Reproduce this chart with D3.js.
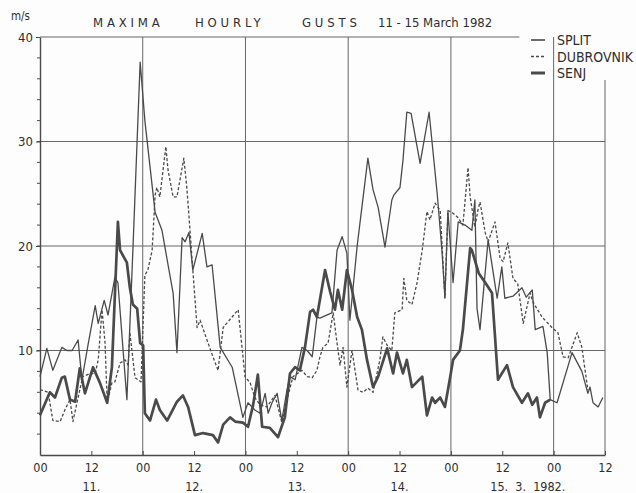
<!DOCTYPE html>
<html>
<head>
<meta charset="utf-8">
<script src="https://cdn.jsdelivr.net/npm/d3@7"></script>
<style>
  body { margin: 0; background: #fdfdfd; }
  svg { display: block; }
  text { font-family: "DejaVu Sans Condensed", "Liberation Sans Narrow", sans-serif; fill: #2e2e2e; }
</style>
</head>
<body>
<svg width="636" height="493"></svg>
<script>
// [hour since 11.3. 00h, gust m/s]
const split = [[0,7.5],[1.6,10.2],[3,8.1],[5.1,10.3],[6.3,10],[7.5,10],[8.9,11],[9.8,7.2],[11.2,10.5],
  [12.9,14.3],[13.6,12.6],[15,14.8],[15.9,13.4],[17.5,17],[18.2,16.5],[20.3,5.3],[21.7,19.6],[23.4,37.6],
  [24.5,32],[25.7,27.6],[26.9,23.2],[28.5,21.5],[29.7,18.7],[31.1,15.5],[32,9.8],[33.2,20.8],[33.9,20.4],
  [34.8,21.3],[35.7,17.7],[37.9,21.2],[39,18],[40.2,18.2],[42.1,10.3],[44.9,8.4],[47.4,3.6],[48.6,5],
  [50.2,4.3],[51.4,4],[52.6,5.9],[53.3,4],[54.2,5],[55.4,5.9],[56.5,3.3],[57.7,6.2],[58.4,7.5],[59.6,7.2],
  [61.2,10.3],[62.4,10],[63.6,9.4],[64.7,13.2],[65.4,13.1],[67.1,13.4],[68.2,13.6],[69.4,19.6],[70.6,20.9],
  [71.7,19.3],[72.4,12.9],[74.1,20],[75.2,23.7],[76.6,28.4],[77.8,25.4],[79,23.7],[80.6,19.9],[82.2,24.4],
  [82.7,24.9],[84.1,25.6],[84.8,28.2],[85.7,32.8],[86.7,32.7],[88.8,27.9],[90.9,32.8],[92.8,25],[93.9,19.6],
  [94.6,15.1],[95.3,23.3],[96.5,16.5],[97.7,22.3],[99.3,22],[100.9,21.5],[101.6,24.4],[102.1,14],[102.8,12],
  [104.7,20.6],[106.8,15],[107.9,18],[108.6,15],[110.5,15.2],[112.6,16],[113.6,15.1],[115,15.8],[115.7,12],
  [117.5,12.3],[118.5,9.8],[119.2,5.3],[120.8,5],[124.3,9.8],[126.6,8],[128,5.9],[128.5,6.5],[129.2,5],
  [130.4,4.6],[131.5,5.5]];

const dubrovnik = [[0,6.2],[0.5,6.2],[1.9,6],[3,3.3],[4.7,3.2],[5.8,4.3],[7,5.3],[7.7,3.2],[8.9,5.5],[10,7.5],
  [11.7,7.8],[12.9,7.8],[13.6,9.1],[14.5,13.9],[15.2,10.7],[15.7,5],[16.8,6.9],[17.5,7],[18.7,8.8],[19.9,9.1],
  [20.6,8.6],[21,11.7],[22.2,7.4],[23.6,7],[24.5,17.2],[25.2,17.7],[26.2,19.6],[26.9,24.9],[27.3,25.6],
  [28,24.7],[29.4,29.5],[29.9,27.3],[31.1,24.7],[32,24.7],[33.6,28.4],[34.3,25.6],[35,21.8],[35.7,17.7],
  [36.7,12.2],[37.4,12.9],[40.4,9.4],[41.6,8.1],[42.8,12.2],[46.3,13.9],[47.9,7.5],[49.1,6.9],[50.2,5.5],
  [51.4,4.8],[53,4.6],[54.9,5.7],[56.5,3.1],[57.7,5.3],[59.1,7.5],[61.2,8.1],[62.4,7.5],[63.6,7.4],[64.7,8.1],
  [65.4,9.4],[66.1,10.3],[67.3,10.7],[68.5,13.6],[69.4,10.7],[70.1,8.6],[70.8,10.3],[71.7,6.5],[72.9,10],
  [74.3,6.2],[75.5,6],[76.6,6.4],[77.8,6],[79.4,9.1],[80.1,11.3],[81.1,10.5],[82.2,10],[82.9,13.6],[84.6,13.9],
  [85,16.9],[85.7,14.8],[86.9,14.4],[88.1,16.5],[89.3,19.6],[90.4,23.3],[91.1,22.5],[92.3,24.1],[93.5,23.4],
  [94.6,15],[95.3,23.4],[96.3,23.2],[97.7,22.7],[98.8,22],[100,27.5],[100.5,24.7],[101.6,21.8],[102.3,23.4],
  [102.8,24.2],[104,21.3],[104.7,20.4],[106.3,22.3],[107.5,18.8],[108.2,18.5],[109.3,20.3],[110.5,16.9],
  [111.6,16.4],[112.9,12.6],[114.5,15.5],[115.2,14.6],[117.3,13.2],[119.6,12.2],[121,11.7],[122.2,9.4],
  [123.4,9.3],[125.5,11.7],[126.6,10.3],[128,6.2]];

const senj = [[0,3.8],[2.3,6],[3.5,5.5],[5.1,7.4],[5.8,7.5],[7,5.3],[8.2,5.1],[9.3,8.3],[10.5,5.9],[12.4,8.4],
  [14,6.9],[15.7,5],[16.8,8.4],[18.2,22.3],[18.7,19.6],[20.3,18.4],[21,16],[21.7,14.4],[22.7,14],[23.4,10.7],
  [24.1,10.5],[24.5,4],[25.7,3.3],[27.1,5.3],[28,4.3],[29.7,3.3],[32,5.1],[33.4,5.7],[34.6,4.6],[36.2,1.9],
  [38.1,2.1],[40.4,1.9],[41.6,1.2],[42.8,2.9],[44.4,3.6],[45.6,3.2],[47.4,3.1],[48.6,2.7],[49.8,4.8],
  [50.9,7.7],[51.9,2.7],[53.7,2.6],[55.6,1.7],[57.2,3.6],[58.4,7.8],[59.6,8.4],[60.7,8.1],[61.9,10.3],
  [63.1,13.7],[63.8,13.9],[64.7,13.2],[66.6,17.7],[67.8,15.6],[68.9,13.9],[69.6,15.8],[70.6,13.9],[71.7,17.7],
  [72.9,15.8],[74.1,13.2],[75.2,12],[76.4,9.1],[77.8,6.5],[79,7.5],[81.1,10.2],[82.5,7.8],[83.4,9.8],[84.8,7.8],
  [85.7,9.1],[86.9,6.5],[89.3,7.5],[90.4,3.8],[91.6,5.5],[92.3,5],[93.5,5.5],[94.6,4.6],[95.8,7.4],[96.5,9.1],
  [98.1,10],[98.8,12],[100.5,19.8],[100.9,19.6],[102.5,17.4],[104,16.5],[105.6,15.5],[107,7.2],[109.1,8.6],
  [110.5,6.5],[112.6,5],[114,5.9],[115,4.8],[116.1,5.5],[116.8,3.6],[118,5],[119.2,5.3]];

const hourTicks = [0, 12, 24, 36, 48, 60, 72, 84, 96, 108, 120, 132];
const dayLabels = ["11.", "12.", "13.", "14.", "15.  3.  1982."];
const dayHours = [12, 36, 60, 84, 108];
const valueTicks = [10, 20, 30, 40];
const titleWords = ["MAXIMA", "HOURLY", "GUSTS"];
const legendNames = ["SPLIT", "DUBROVNIK", "SENJ"];

const svg = d3.select("svg");
const ink = "#4a4a4a";

const x = d3.scaleLinear().domain([0, 132]).range([40, 605]);
const y = d3.scaleLinear().domain([0, 40]).range([455, 37]);

// grid
const grid = svg.append("g").attr("stroke", "#666").attr("stroke-width", 1);
grid.selectAll("line.v")
  .data([24, 48, 72, 96, 120])
  .enter().append("line")
  .attr("x1", d => x(d)).attr("x2", d => x(d))
  .attr("y1", y(40)).attr("y2", y(0));
grid.selectAll("line.h")
  .data([10, 20, 30])
  .enter().append("line")
  .attr("x1", x(0)).attr("x2", x(132))
  .attr("y1", d => y(d)).attr("y2", d => y(d));
// top border stops before the legend, right border starts below it
grid.append("line").attr("x1", x(0)).attr("x2", x(112)).attr("y1", y(40)).attr("y2", y(40));
grid.append("line").attr("x1", x(132)).attr("x2", x(132)).attr("y1", 80).attr("y2", y(0));

// axes
const xAxis = svg.append("g")
  .attr("transform", `translate(0,${y(0)})`)
  .call(d3.axisBottom(x).tickValues(hourTicks)
    .tickFormat(d => d % 24 === 0 ? "00" : "12")
    .tickSizeInner(-4).tickSizeOuter(0).tickPadding(8));
xAxis.select(".domain").attr("stroke", ink).attr("stroke-width", 1.4);
xAxis.selectAll(".tick line").attr("stroke", ink);
xAxis.selectAll("text").attr("font-size", 12.5).attr("fill", "#2e2e2e");

svg.append("g").selectAll("text")
  .data(dayLabels)
  .enter().append("text")
  .attr("x", (d, i) => i < 4 ? x(dayHours[i]) : x(dayHours[i]) - 12)
  .attr("y", 491)
  .attr("text-anchor", (d, i) => i < 4 ? "middle" : "start")
  .attr("font-size", 12.5)
  .style("white-space", "pre")
  .text(d => d);

const yAxis = svg.append("g")
  .attr("transform", `translate(${x(0)},0)`)
  .call(d3.axisLeft(y).tickValues(valueTicks).tickSizeInner(4).tickSizeOuter(0).tickPadding(3));
yAxis.select(".domain").attr("stroke", ink).attr("stroke-width", 1.4);
yAxis.selectAll(".tick line").attr("stroke", ink);
yAxis.selectAll("text").attr("font-size", 13).attr("fill", "#2e2e2e");
svg.append("g").attr("stroke", ink).selectAll("line")
  .data(d3.range(2, 40, 2))
  .enter().append("line")
  .attr("x1", x(0) - 3).attr("x2", x(0))
  .attr("y1", d => y(d)).attr("y2", d => y(d));

svg.append("text").attr("x", 11).attr("y", 20).attr("font-size", 11.5).text("m/s");

// title
const title = svg.append("text").attr("y", 27).attr("font-size", 13);
title.append("tspan").attr("x", 93).attr("letter-spacing", 3.8).text(titleWords[0]);
title.append("tspan").attr("x", 195).attr("letter-spacing", 3.8).text(titleWords[1]);
title.append("tspan").attr("x", 302).attr("letter-spacing", 3.8).text(titleWords[2]);
title.append("tspan").attr("x", 378).text("11 - 15 March 1982");

// series
const line = d3.line().x(d => x(d[0])).y(d => y(d[1]));
const series = [
  { data: split, width: 1.3, dash: null },
  { data: dubrovnik, width: 1.3, dash: "3,2" },
  { data: senj, width: 2.7, dash: null }
];
svg.append("g").selectAll("path")
  .data(series)
  .enter().append("path")
  .attr("d", d => line(d.data))
  .attr("fill", "none")
  .attr("stroke", ink)
  .attr("stroke-width", d => d.width)
  .attr("stroke-dasharray", d => d.dash)
  .attr("stroke-linejoin", "round");

// legend
const legend = svg.append("g").selectAll("g")
  .data(legendNames)
  .enter().append("g")
  .attr("transform", (d, i) => `translate(531,${40 + i * 16.5})`);
legend.append("line")
  .attr("x1", 0).attr("x2", 14)
  .attr("stroke", ink)
  .attr("stroke-width", (d, i) => series[i].width + 0.3)
  .attr("stroke-dasharray", (d, i) => series[i].dash);
legend.append("text")
  .attr("x", 26).attr("y", 5)
  .attr("font-size", 14)
  .text(d => d);
</script>
</body>
</html>
